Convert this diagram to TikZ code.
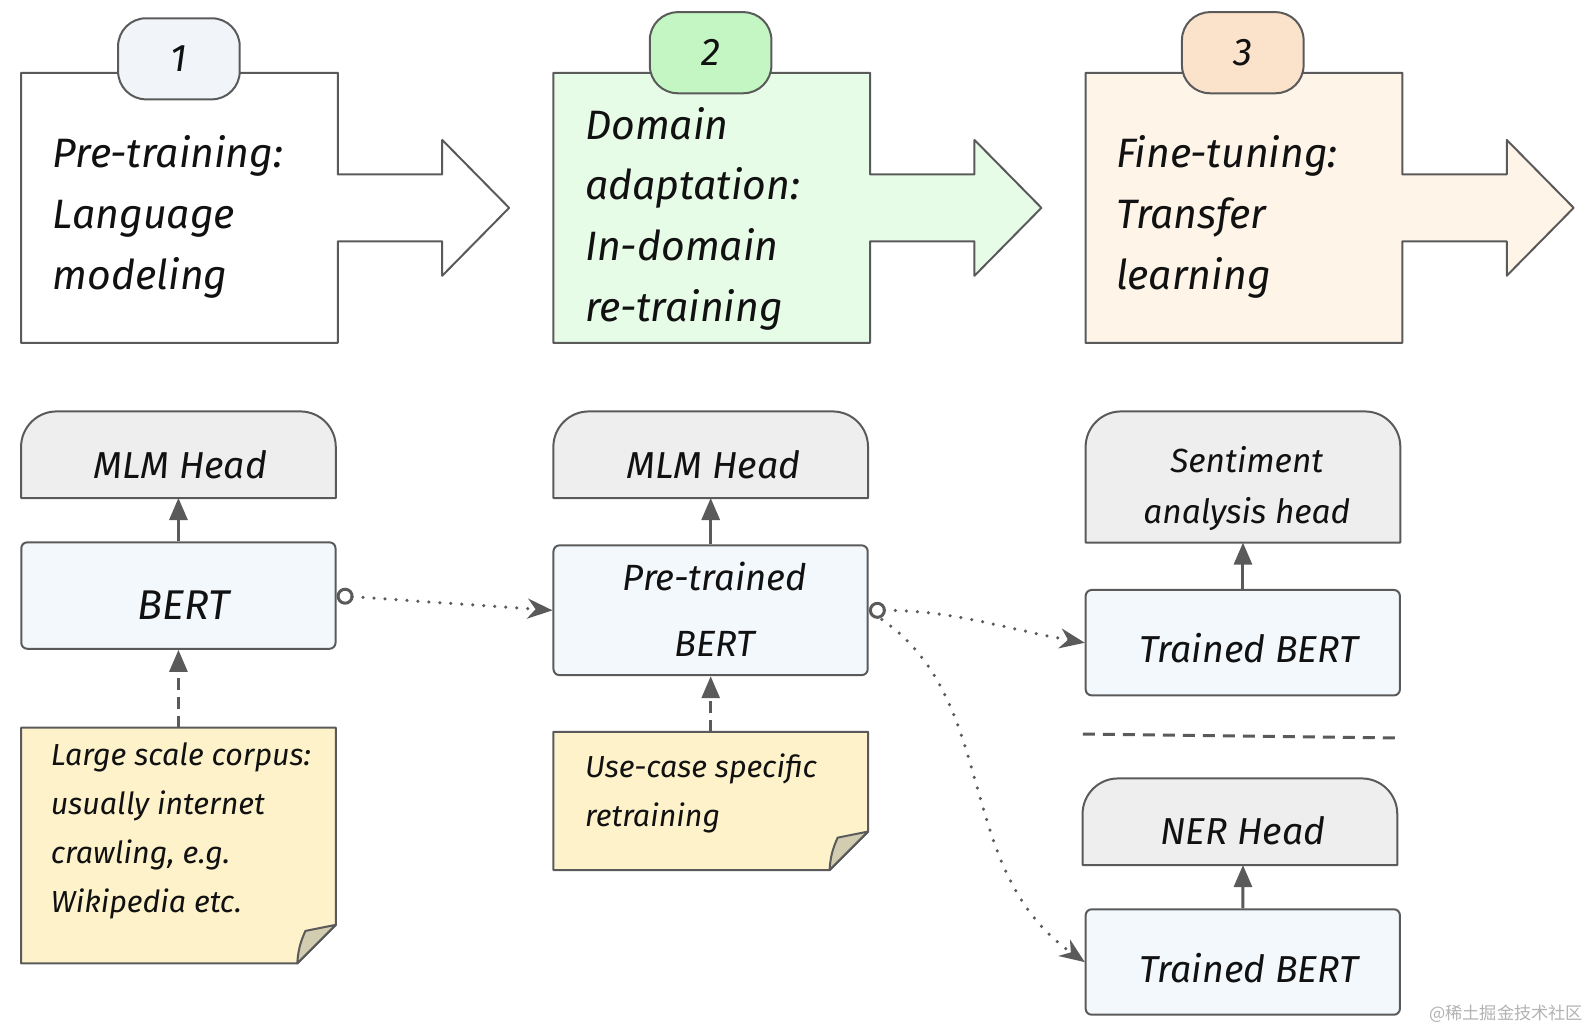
\documentclass[tikz,border=0pt]{standalone}
\usepackage{fontspec}
\setmainfont{Fira Sans}
\newfontfamily\cjkfont{Noto Sans CJK SC}
\usetikzlibrary{arrows.meta,positioning}

\definecolor{linegray}{HTML}{5A5A5A}
\definecolor{inkgray}{HTML}{111111}
\definecolor{tabA}{HTML}{F1F5F9}
\definecolor{domfill}{HTML}{E7FCE7}
\definecolor{tabB}{HTML}{C3F6C3}
\definecolor{finefill}{HTML}{FEF4E8}
\definecolor{tabC}{HTML}{FBE3CB}
\definecolor{headfill}{HTML}{EEEEEE}
\definecolor{bertfill}{HTML}{F3F8FD}
\definecolor{notefill}{HTML}{FEF2CB}
\definecolor{foldfill}{HTML}{D2CDB1}

\tikzset{
  outline/.style={draw=linegray, line width=2pt, line join=round},
  stage/.style={minimum width=312pt, minimum height=266pt, inner sep=0pt},
  tabbox/.style={outline, rounded corners=28pt, minimum width=120pt, minimum height=80pt,
    inner sep=0pt, text=inkgray, font=\fontsize{38}{40}\selectfont\itshape},
  stagetext/.style={anchor=north west, align=left, inner sep=0pt, text=inkgray,
    font=\fontsize{40.5}{60}\selectfont\itshape},
  headbox/.style={minimum width=310pt, inner sep=0pt},
  bertbox/.style={outline, fill=bertfill, rounded corners=6pt, minimum width=310pt, inner sep=0pt},
  notebox/.style={minimum width=310pt, inner sep=0pt},
  label/.style={anchor=base, inner sep=0pt, text=inkgray, font=\fontsize{37}{40}\selectfont\itshape},
  twolabel/.style={anchor=north, align=center, inner sep=0pt, text=inkgray, font=\fontsize{36}{65}\selectfont\itshape},
  notetext/.style={anchor=north west, align=left, inner sep=0pt, text=inkgray,
    font=\fontsize{30}{48.5}\selectfont\itshape},
  uparrow/.style={draw=linegray, line width=3pt, -{Triangle[length=22pt,width=18pt]}},
  dasharrow/.style={uparrow, dash pattern=on 12pt off 7pt},
  dotline/.style={draw=linegray, line width=3.5pt, line cap=round, dash pattern=on 0pt off 11pt,
    -{Stealth[length=25pt,width=20pt,inset=8pt]}},
  dotlink/.style={dotline, {Circle[open,length=17pt,width=17pt,line width=3pt]}-{Stealth[length=25pt,width=20pt,inset=8pt]}},
  divider/.style={draw=linegray, line width=3pt, dash pattern=on 12pt off 8pt},
  watermark/.style={anchor=east, inner sep=0pt, text=black!30, font=\cjkfont\fontsize{17}{20}\selectfont}
}

\begin{document}
\begin{tikzpicture}[x=1pt,y=-1pt,scale=1.0137,every node/.append style={transform shape}]
\useasboundingbox (0,0) rectangle (1564.6,1014.1);

% the three stages, box and block arrow in one outline
\foreach \n/\x in {pre/177,dom/702,fine/1227}
  \node[stage] (\n) at (\x,205) {};
\foreach \n/\c in {pre/white,dom/domfill,fine/finefill}
  \draw[outline,fill=\c] (\n.north west) -- (\n.north east) -- ([yshift=33pt]\n.east)
    -- ++(103,0) -- ++(0,-34) -- ++(66,67) -- ++(-66,67) -- ++(0,-34) -- ++(-103,0)
    -- (\n.south east) -- (\n.south west) -- cycle;

\node[tabbox,fill=tabA] (tab1) at (176.5,58) {1};
\node[tabbox,fill=tabB] (tab2) at (701,52) {2};
\node[tabbox,fill=tabC] (tab3) at (1226,52) {3};

\node[stagetext] (pretext) at (52,123) {\strut Pre-training:\\Language\\modeling};
\node[stagetext] (domtext) at (577,95) {\strut Domain\\adaptation:\\In-domain\\re-training};
\node[stagetext] (finetext) at (1101,123) {\strut Fine-tuning:\\Transfer\\learning};

% heads
\node[headbox,minimum height=85pt] (mlm1) at (176,448.5) {};
\node[headbox,minimum height=85pt] (mlm2) at (701,448.5) {};
\node[headbox,minimum height=129pt] (senti) at (1226,470.5) {};
\node[headbox,minimum height=85pt] (ner) at (1223,810.5) {};
\foreach \h in {mlm1,mlm2,senti,ner}
  \draw[outline,fill=headfill] (\h.south west) -- ([yshift=-35pt]\h.north west)
    arc[start angle=180,end angle=90,radius=35pt] -- ([xshift=-35pt]\h.north east)
    arc[start angle=90,end angle=0,radius=35pt] -- (\h.south east) -- cycle;

% models
\node[bertbox,minimum height=105pt] (bert1) at (176,587.5) {};
\node[bertbox,minimum height=128pt] (pbert) at (701,602) {};
\node[bertbox,minimum height=104pt] (tb1) at (1226,634) {};
\node[bertbox,minimum height=104pt] (tb2) at (1226,949) {};

% notes
\node[notebox,minimum height=232pt] (note1) at (176,834) {};
\node[notebox,minimum height=136pt] (note2) at (701,790) {};
\foreach \n in {note1,note2} {
  \draw[outline,fill=notefill] (\n.north west) -- (\n.north east) -- ([yshift=38pt]\n.south east)
    -- ([xshift=-38pt]\n.south east) -- (\n.south west) -- cycle;
  \draw[outline,fill=foldfill] ([yshift=38pt]\n.south east) -- ([xshift=-30pt,yshift=32pt]\n.south east)
    to[bend right=10] ([xshift=-38pt]\n.south east) -- cycle;
}

% labels
\node[label] (mlm1t) at (178,472) {MLM Head};
\node[label] (mlm2t) at (704,472) {MLM Head};
\node[label,font=\fontsize{33}{50}\selectfont\itshape,anchor=north,align=center] (sentit) at (1230,431) {\strut Sentiment\\analysis head};
\node[label] (nert) at (1226,833) {NER Head};
\node[label,font=\fontsize{41}{44}\selectfont\itshape] (bert1t) at (181,611) {BERT};
\node[twolabel] (pbertt) at (705,537) {\strut Pre-trained\\BERT};
\node[label] (tb1t) at (1232,654) {Trained BERT};
\node[label] (tb2t) at (1232,969) {Trained BERT};
\node[notetext] (note1t) at (50,721) {\strut Large scale corpus:\\usually internet\\crawling, e.g.\\Wikipedia etc.};
\node[notetext] (note2t) at (577,733) {\strut Use-case specific\\retraining};

% connectors
\draw[uparrow] (bert1.north) -- (mlm1.south);
\draw[uparrow] (pbert.north) -- (mlm2.south);
\draw[uparrow] (tb1.north) -- (senti.south);
\draw[uparrow] (tb2.north) -- ([xshift=3pt]ner.south);
\draw[dasharrow] (note1.north) -- (bert1.south);
\draw[dasharrow] (note2.north) -- (pbert.south);
\draw[dotlink] (bert1.east) -- (pbert.west);
\draw[dotlink] (pbert.east) to[out=0,in=170] (tb1.west);
\draw[dotline,shorten <=16pt] (pbert.east) to[out=-35,in=145] (tb2.west);

\coordinate (cutl) at (1068,724);
\coordinate (cutr) at (1383,728);
\draw[divider] (cutl) -- (cutr);

\node[watermark] (wm) at (1562,1000) {@稀土掘金技术社区};
\end{tikzpicture}
\end{document}
